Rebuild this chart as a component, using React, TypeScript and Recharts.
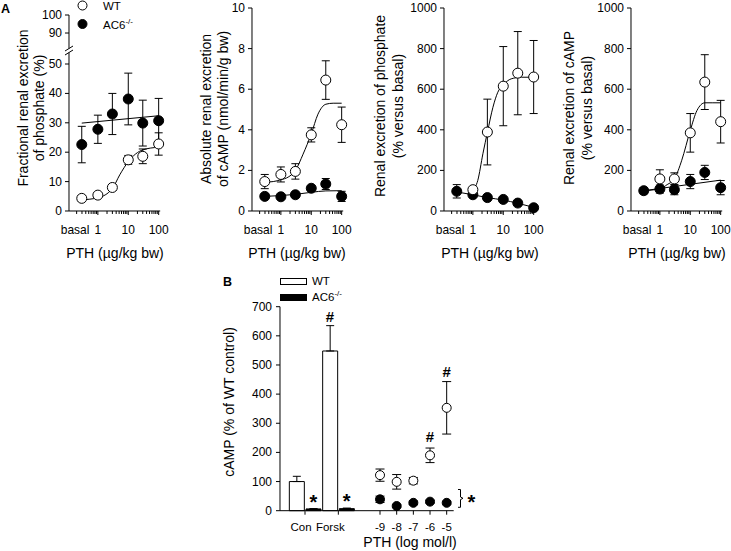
import React from 'react';
import { ComposedChart, Line, Scatter, Bar, Cell, XAxis, YAxis, ErrorBar } from 'recharts';

// ---- panel A: in vivo PTH doses (log10 µg/kg bw), basal drawn left of 1 ----
const DOSE_X = [-0.53, 0, 0.477, 1, 1.477, 2];
const DOSE_X_NO_BASAL = [0, 0.477, 1, 1.477, 2];

// A1 fractional renal excretion of phosphate (%)
const FEP_WT = [4.3, 5.4, 8.0, 17.4, 18.6, 22.8];
const FEP_WT_ERR = [1.0, 0.8, 1.0, 1.5, 2.5, 3.8];
const FEP_KO = [22.6, 27.8, 33.0, 38.1, 29.9, 30.7];
const FEP_KO_ERR = [6.2, 4.8, 7.0, 8.8, 7.8, 7.6];
const FEP_WT_FIT_X = [-0.53, 0, 0.48, 0.72, 1, 1.48, 2];
const FEP_WT_FIT = [3.8, 4.5, 7.7, 12.3, 16.8, 20.8, 21.7];
const FEP_KO_FIT_X = [-0.53, 2];
const FEP_KO_FIT = [29.9, 32.4];
// broken axis: real tick labels and where they sit on the drawn scale
const FEP_TICK_LABELS = [0, 10, 20, 30, 40, 50, 90, 100];
const FEP_TICK_POS = [0, 10, 20, 30, 40, 50, 60.54, 66.67];

// A2 absolute renal excretion of cAMP (nmol/min/g bw)
const CAMP_WT = [1.45, 1.8, 1.95, 3.75, 6.45, 4.25];
const CAMP_WT_ERR = [0.35, 0.37, 0.38, 0.35, 0.95, 0.87];
const CAMP_KO = [0.72, 0.7, 0.8, 1.12, 1.33, 0.72];
const CAMP_KO_ERR = [0.1, 0.08, 0.1, 0.12, 0.27, 0.25];
const CAMP_WT_FIT_X = [-0.53, -0.25, 0, 0.24, 0.48, 0.73, 1, 1.22, 1.48, 1.72, 2];
const CAMP_WT_FIT = [1.42, 1.45, 1.54, 1.67, 2.0, 2.8, 3.8, 4.77, 5.26, 5.31, 5.31];
const CAMP_KO_FIT_X = [-0.53, 0, 0.48, 1, 1.48, 2];
const CAMP_KO_FIT = [0.72, 0.76, 0.82, 0.92, 0.99, 1.0];

// A3 renal excretion of phosphate (% versus basal)
const PHOS_WT = [105, 389, 615, 679, 660];
const PHOS_WT_ERR = [10, 162, 195, 205, 180];
const PHOS_KO = [97, 80, 66, 57, 39, 16];
const PHOS_KO_ERR = [33, 6, 6, 6, 6, 6];
const PHOS_WT_FIT_X = [0, 0.16, 0.33, 0.48, 0.66, 0.82, 1, 1.26, 1.6, 2];
const PHOS_WT_FIT = [101, 150, 282, 389, 511, 585, 621, 651, 659, 659];
const PHOS_KO_FIT = [94, 80, 66, 54, 38, 18];

// A4 renal excretion of cAMP (% versus basal)
const RCAMP_WT = [158, 158, 385, 635, 440];
const RCAMP_WT_ERR = [45, 30, 95, 135, 105];
const RCAMP_KO = [100, 108, 105, 145, 190, 115];
const RCAMP_KO_ERR = [15, 20, 25, 35, 35, 35];
const RCAMP_WT_FIT_X = [-0.53, 0, 0.24, 0.48, 0.72, 1, 1.22, 1.48, 1.72, 2];
const RCAMP_WT_FIT = [100, 110, 130, 159, 250, 397, 495, 533, 533, 533];
const RCAMP_KO_FIT_X = [-0.53, 2];
const RCAMP_KO_FIT = [100, 152];

// ---- panel B: cAMP in vitro (% of WT control) ----
const B_BAR_LABELS = ['Con', 'Forsk'];
const B_BAR_WT = [100, 548];
const B_BAR_WT_ERR = [18, 87];
const B_BAR_KO = [6, 7];
const B_BAR_KO_ERR = [1, 2];
const B_PTH_LABELS = ['-9', '-8', '-7', '-6', '-5'];
const B_PTH_WT = [122, 99, 103, 190, 353];
const B_PTH_WT_ERR = [21, 25, 11, 25, 90];
const B_PTH_KO = [39, 16, 27, 31, 27];
const B_PTH_KO_ERR = [11, 5, 6, 5, 5];
const B_HASH_X = [3, 9, 10];
const B_HASH_Y = [667, 254, 478];
const B_STAR_X = [2, 4];
const B_STAR_Y = [44, 47];
const B_Y_TICKS = [0, 100, 200, 300, 400, 500, 600, 700];

// ---- layout ----
const FONT = '"Liberation Sans", Arial, Helvetica, sans-serif';
const DEC = 30.4;
const X_MIN = -0.95;
const X_MAX = 2.05;
const PLOT_W = (X_MAX - X_MIN) * DEC;
const Y_AXIS_W = 45;
const RIGHT_PAD = 16;
const BASAL_LABEL_X = -0.75;
const LOG_MAJOR = [0, 1, 2];
const LOG_MAJOR_LABELS = ['1', '10', '100'];
const LOG_MINOR = [-1, 0, 1].flatMap((d) => [2, 3, 4, 5, 6, 7, 8, 9].map((k) => Math.log10(k) + d));
const X_TICKS = [BASAL_LABEL_X, ...LOG_MINOR, ...LOG_MAJOR].sort((a, b) => a - b);

const B_SLOT = 16.67;
const B_X_MAX = 10.42;
const B_AXIS_X = 279.5;
const B_TICKS = [1.5, 3.5, 6, 7, 8, 9, 10];
const B_TICK_LABELS = [...B_BAR_LABELS, ...B_PTH_LABELS];
const B_TICK_DX = [-4, -8, 0, 0, 0, 0, 0];

const pts = (xs: number[], ys: number[], es?: number[]) =>
  xs.map((x, i) => ({ x, y: ys[i], e: es ? es[i] : 0 }));

const openCircle = (r: number) => (p: any) =>
  <circle cx={p.cx} cy={p.cy} r={r} fill="#fff" stroke="#000" strokeWidth={1} />;
const filledCircle = (r: number) => (p: any) =>
  <circle cx={p.cx} cy={p.cy} r={r} fill="#000" stroke="#000" strokeWidth={1} />;
const markText = (ch: string, size: number, dy: string) => (p: any) => (
  <text x={p.cx} y={p.cy} dy={dy} textAnchor="middle" dominantBaseline="central"
    fontSize={size} fontWeight="bold" fontFamily={FONT}>{ch}</text>
);

const near = (a: number, b: number) => Math.abs(a - b) < 1e-6;

function DoseTick(props: any) {
  const { x, y, payload } = props;
  const v = payload.value;
  if (near(v, BASAL_LABEL_X)) {
    return <text x={x} y={y + 23} textAnchor="middle" fontSize={12} fontFamily={FONT}>basal</text>;
  }
  const mi = LOG_MAJOR.findIndex((m) => near(m, v));
  if (mi >= 0) {
    return (
      <g>
        <line x1={x} x2={x} y1={y} y2={y + 4} stroke="#000" />
        <text x={x} y={y + 23} textAnchor="middle" fontSize={12} fontFamily={FONT}>{LOG_MAJOR_LABELS[mi]}</text>
      </g>
    );
  }
  return <line x1={x} x2={x} y1={y} y2={y + 3} stroke="#000" />;
}

const yTick = (fmt: (v: number) => string, gap: number) => (props: any) => {
  const { x, y, payload } = props;
  return (
    <g>
      <line x1={x - 4} x2={x} y1={y} y2={y} stroke="#000" />
      <text x={x - gap} y={y + 4} textAnchor="end" fontSize={12} fontFamily={FONT}>{fmt(payload.value)}</text>
    </g>
  );
};

function BTick(props: any) {
  const { x, y, payload } = props;
  const i = B_TICKS.findIndex((t) => near(t, payload.value));
  return (
    <g>
      <line x1={x} x2={x} y1={y} y2={y + 4} stroke="#000" />
      <text x={x + B_TICK_DX[i]} y={y + 20} textAnchor="middle" fontSize={11.5} fontFamily={FONT}>{B_TICK_LABELS[i]}</text>
    </g>
  );
}

type PanelProps = {
  axisX: number;
  top: number;
  yMax: number;
  yTicks: number[];
  yFmt: (v: number) => string;
  wt: any[];
  ko: any[];
  wtFit: any[];
  koFit: any[];
};

function DosePanel({ axisX, top, yMax, yTicks, yFmt, wt, ko, wtFit, koFit }: PanelProps) {
  return (
    <div style={{ position: 'absolute', left: axisX - Y_AXIS_W, top: 0 }}>
      <ComposedChart width={Y_AXIS_W + PLOT_W + RIGHT_PAD} height={275}
        margin={{ top, right: RIGHT_PAD, bottom: 0, left: 0 }}>
        <XAxis type="number" dataKey="x" domain={[X_MIN, X_MAX]} ticks={X_TICKS}
          interval={0} tick={DoseTick} tickLine={false} tickSize={0} tickMargin={0} height={64}
          axisLine={{ stroke: '#000' }} />
        <YAxis type="number" domain={[0, yMax]} ticks={yTicks} interval={0}
          tick={yTick(yFmt, 7)} tickLine={false} tickSize={0} tickMargin={0} width={Y_AXIS_W}
          axisLine={{ stroke: '#000' }} />
        <Line data={koFit} dataKey="y" type="monotone" stroke="#000" strokeWidth={1} dot={false}
          activeDot={false} isAnimationActive={false} />
        <Line data={wtFit} dataKey="y" type="monotone" stroke="#000" strokeWidth={1} dot={false}
          activeDot={false} isAnimationActive={false} />
        <Scatter data={ko} dataKey="y" shape={filledCircle(5)} isAnimationActive={false}>
          <ErrorBar dataKey="e" direction="y" width={4} stroke="#000" strokeWidth={1} />
        </Scatter>
        <Scatter data={wt} dataKey="y" shape={openCircle(5)} isAnimationActive={false}>
          <ErrorBar dataKey="e" direction="y" width={4} stroke="#000" strokeWidth={1} />
        </Scatter>
      </ComposedChart>
    </div>
  );
}

const VTitle = ({ x, y, children }: { x: number; y: number; children: React.ReactNode }) => (
  <text x={x} y={y} transform={`rotate(-90 ${x} ${y})`} textAnchor="middle" fontSize={14}>{children}</text>
);

export default function App() {
  const plain = (v: number) => String(v);
  const fepFmt = (v: number) => {
    const i = FEP_TICK_POS.findIndex((p) => near(p, v));
    return i >= 0 ? String(FEP_TICK_LABELS[i]) : '';
  };

  const barRows = B_BAR_LABELS.flatMap((_, i) => [
    { x: 1 + 2 * i, v: B_BAR_WT[i], e: [0, B_BAR_WT_ERR[i]], ko: false },
    { x: 2 + 2 * i, v: B_BAR_KO[i], e: [0, B_BAR_KO_ERR[i]], ko: true },
  ]);
  const pthX = B_PTH_LABELS.map((_, i) => 6 + i);

  return (
    <div style={{ position: 'absolute', left: 0, top: 0, width: 731, height: 551, overflow: 'hidden', background: '#fff', fontFamily: FONT }}>
      <DosePanel axisX={69} top={15} yMax={66.67} yTicks={FEP_TICK_POS} yFmt={fepFmt}
        wt={pts(DOSE_X, FEP_WT, FEP_WT_ERR)} ko={pts(DOSE_X, FEP_KO, FEP_KO_ERR)}
        wtFit={pts(FEP_WT_FIT_X, FEP_WT_FIT)} koFit={pts(FEP_KO_FIT_X, FEP_KO_FIT)} />
      <DosePanel axisX={251.5} top={8} yMax={10} yTicks={[0, 2, 4, 6, 8, 10]} yFmt={plain}
        wt={pts(DOSE_X, CAMP_WT, CAMP_WT_ERR)} ko={pts(DOSE_X, CAMP_KO, CAMP_KO_ERR)}
        wtFit={pts(CAMP_WT_FIT_X, CAMP_WT_FIT)} koFit={pts(CAMP_KO_FIT_X, CAMP_KO_FIT)} />
      <DosePanel axisX={444} top={8} yMax={1000} yTicks={[0, 200, 400, 600, 800, 1000]} yFmt={plain}
        wt={pts(DOSE_X_NO_BASAL, PHOS_WT, PHOS_WT_ERR)} ko={pts(DOSE_X, PHOS_KO, PHOS_KO_ERR)}
        wtFit={pts(PHOS_WT_FIT_X, PHOS_WT_FIT)} koFit={pts(DOSE_X, PHOS_KO_FIT)} />
      <DosePanel axisX={631} top={8} yMax={1000} yTicks={[0, 200, 400, 600, 800, 1000]} yFmt={plain}
        wt={pts(DOSE_X_NO_BASAL, RCAMP_WT, RCAMP_WT_ERR)} ko={pts(DOSE_X, RCAMP_KO, RCAMP_KO_ERR)}
        wtFit={pts(RCAMP_WT_FIT_X, RCAMP_WT_FIT)} koFit={pts(RCAMP_KO_FIT_X, RCAMP_KO_FIT)} />

      <div style={{ position: 'absolute', left: B_AXIS_X - Y_AXIS_W, top: 290 }}>
        <ComposedChart width={Y_AXIS_W + B_X_MAX * B_SLOT + 4} height={260.7} data={barRows}
          margin={{ top: 16.7, right: 4, bottom: 0, left: 0 }}>
          <XAxis type="number" dataKey="x" domain={[0, B_X_MAX]} ticks={B_TICKS}
            interval={0} tick={BTick} tickLine={false} tickSize={0} tickMargin={0} height={40}
            axisLine={{ stroke: '#000' }} />
          <YAxis type="number" domain={[0, 700]} ticks={B_Y_TICKS} interval={0}
            tick={yTick(plain, 8)} tickLine={false} tickSize={0} tickMargin={0} width={Y_AXIS_W}
            axisLine={{ stroke: '#000' }} />
          <Bar dataKey="v" barSize={B_SLOT} isAnimationActive={false}>
            {barRows.map((r, i) => (
              <Cell key={i} fill={r.ko ? '#000' : '#fff'} stroke="#000" strokeWidth={1} />
            ))}
            <ErrorBar dataKey="e" direction="y" width={4} stroke="#000" strokeWidth={1} />
          </Bar>
          <Scatter data={pts(pthX, B_PTH_KO, B_PTH_KO_ERR)} dataKey="y" shape={filledCircle(4.5)} isAnimationActive={false}>
            <ErrorBar dataKey="e" direction="y" width={4.5} stroke="#000" strokeWidth={1} />
          </Scatter>
          <Scatter data={pts(pthX, B_PTH_WT, B_PTH_WT_ERR)} dataKey="y" shape={openCircle(4.5)} isAnimationActive={false}>
            <ErrorBar dataKey="e" direction="y" width={4.5} stroke="#000" strokeWidth={1} />
          </Scatter>
          <Scatter data={pts(B_HASH_X, B_HASH_Y)} dataKey="y" shape={markText('#', 15, '0')} isAnimationActive={false} />
          <Scatter data={pts(B_STAR_X, B_STAR_Y)} dataKey="y" shape={markText('*', 20, '0.22em')} isAnimationActive={false} />
        </ComposedChart>
      </div>

      <svg width={731} height={551} style={{ position: 'absolute', left: 0, top: 0, pointerEvents: 'none' }} fontFamily={FONT}>
        <text x={1} y={13} fontSize={12.5} fontWeight="bold">A</text>
        <text x={223} y={286} fontSize={12.5} fontWeight="bold">B</text>

        {/* legend A */}
        <circle cx={82.5} cy={5.5} r={4.5} fill="#fff" stroke="#000" />
        <text x={103} y={10} fontSize={11.5}>WT</text>
        <circle cx={82.5} cy={24} r={4.5} fill="#000" stroke="#000" />
        <text x={103} y={28.5} fontSize={11.5}>AC6<tspan dy={-5} fontSize={8}>-/-</tspan></text>

        {/* broken axis in A1 */}
        <rect x={65} y={48.5} width={8} height={4} fill="#fff" />
        <line x1={65} y1={51} x2={73} y2={46} stroke="#000" />
        <line x1={65} y1={55} x2={73} y2={50} stroke="#000" />

        {/* axis titles A */}
        <VTitle x={28} y={108}>Fractional renal excretion</VTitle>
        <VTitle x={44} y={108}>of phosphate (%)</VTitle>
        <VTitle x={211} y={109}>Absolute renal excretion</VTitle>
        <VTitle x={228} y={109}>of cAMP (nmol/min/g bw)</VTitle>
        <VTitle x={385} y={106}>Renal excretion of phosphate</VTitle>
        <VTitle x={403} y={106}>(% versus basal)</VTitle>
        <VTitle x={574} y={108}>Renal excretion of cAMP</VTitle>
        <VTitle x={592} y={108}>(% versus basal)</VTitle>
        {[115, 297, 490, 677].map((cx) => (
          <text key={cx} x={cx} y={258} textAnchor="middle" fontSize={14}>PTH (µg/kg bw)</text>
        ))}

        {/* legend B */}
        <rect x={280.5} y={278.5} width={26} height={6} fill="#fff" stroke="#000" />
        <text x={312} y={285} fontSize={11.5}>WT</text>
        <rect x={280.5} y={294.5} width={26} height={6} fill="#000" stroke="#000" />
        <text x={312} y={301} fontSize={11.5}>AC6<tspan dy={-5} fontSize={8}>-/-</tspan></text>

        {/* axis titles B */}
        <VTitle x={234} y={402}>cAMP (% of WT control)</VTitle>
        <text x={410} y={547} textAnchor="middle" fontSize={14}>PTH (log mol/l)</text>

        {/* bracket marking AC6-/- PTH group */}
        <path d="M458,489.5 H460.5 V497 L463,498.3 L460.5,499.6 V507.3 H458" fill="none" stroke="#000" />
        <text x={471.5} y={498} dy="0.22em" textAnchor="middle" dominantBaseline="central" fontSize={20} fontWeight="bold">*</text>
      </svg>
    </div>
  );
}
